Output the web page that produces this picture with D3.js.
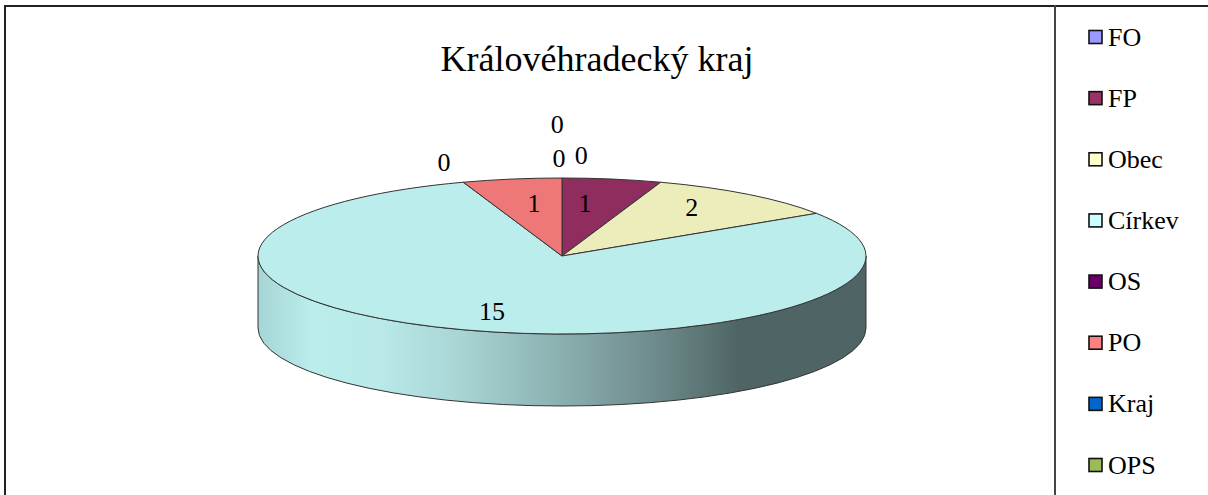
<!DOCTYPE html>
<html>
<head>
<meta charset="utf-8">
<script src="https://cdn.jsdelivr.net/npm/d3@7"></script>
<style>
  html, body { margin: 0; padding: 0; background: #fff; overflow: hidden; }
  svg { display: block; }
  text { font-family: "Liberation Serif", serif; fill: #000; }
</style>
</head>
<body>
<svg width="1208" height="495"></svg>
<script>
  var categories = ["FO", "FP", "Obec", "Církev", "OS", "PO", "Kraj", "OPS"];
  var values = [0, 1, 2, 15, 0, 1, 0, 0];
  var topColors = ["#9999ff", "#8e2d5e", "#ededbb", "#bbeded", "#660066", "#ee7878", "#0066cc", "#9bbb59"];
  var legendColors = ["#9999ff", "#993366", "#ffffcc", "#ccffff", "#660066", "#ff8080", "#0066cc", "#9bbb59"];
  var title = "Královéhradecký kraj";

  var svg = d3.select("svg"),
      cx = 562, cy = 256, rx = 304, ry = 78, depth = 72;

  // unit circle -> flattened pie
  var px = d3.scaleLinear().domain([-1, 1]).range([cx - rx, cx + rx]);
  var py = d3.scaleLinear().domain([-1, 1]).range([cy - ry, cy + ry]);

  var slices = d3.pie().sort(null).value(function(d) { return d; })(values);

  // label spots as [dx, dy] from the centre, fractions of the radii
  var labelSpots = [[-0.016, -1.68], [0.076, -0.67], [0.427, -0.62], [-0.23, 0.72],
                    [0.063, -1.28], [-0.092, -0.67], [-0.388, -1.19], [-0.01, -1.24]];

  var defs = svg.append("defs");
  var grad = defs.append("linearGradient")
      .attr("id", "side")
      .attr("gradientUnits", "userSpaceOnUse")
      .attr("x1", cx - rx).attr("x2", cx + rx).attr("y1", 0).attr("y2", 0);
  [[0, "#a6d5d5"], [0.09, "#bbeded"], [0.2, "#b9e9e9"], [0.33, "#a9d5d5"], [0.5, "#8aafaf"],
   [0.65, "#6f8c8c"], [0.79, "#4f6565"], [1, "#4f6565"]].forEach(function(s) {
    grad.append("stop").attr("offset", s[0]).attr("stop-color", s[1]);
  });

  // frame
  var frame = svg.append("g").attr("stroke", "#222").attr("stroke-width", 2);
  frame.append("line").attr("x1", 5).attr("x2", 1208).attr("y1", 6).attr("y2", 6);
  frame.append("line").attr("x1", 5).attr("x2", 5).attr("y1", 5).attr("y2", 495);
  frame.append("line").attr("x1", 1055).attr("x2", 1055).attr("y1", 5).attr("y2", 495).attr("stroke", "#444");

  svg.append("text")
      .attr("x", 597).attr("y", 71)
      .attr("text-anchor", "middle")
      .attr("font-size", "36px")
      .text(title);

  // side wall
  svg.append("path")
      .attr("d", "M" + px(-1) + "," + py(0)
        + "A" + rx + "," + ry + " 0 0 0 " + px(1) + "," + py(0)
        + "V" + (py(0) + depth)
        + "A" + rx + "," + ry + " 0 0 1 " + px(-1) + "," + (py(0) + depth) + "Z")
      .attr("fill", "url(#side)")
      .attr("stroke", "#333")
      .attr("stroke-width", 1);

  // top face, angle 0 is straight up
  function slicePath(d) {
    var large = d.endAngle - d.startAngle > Math.PI ? 1 : 0;
    return "M" + px(0) + "," + py(0)
      + "L" + px(Math.sin(d.startAngle)) + "," + py(-Math.cos(d.startAngle))
      + "A" + rx + "," + ry + " 0 " + large + " 1 " + px(Math.sin(d.endAngle)) + "," + py(-Math.cos(d.endAngle)) + "Z";
  }

  svg.append("g").selectAll("path")
      .data(slices.filter(function(d) { return d.value > 0; }))
      .enter().append("path")
      .attr("d", slicePath)
      .attr("fill", function(d) { return topColors[d.index]; })
      .attr("stroke", "#333")
      .attr("stroke-width", 1);

  svg.append("g").selectAll("text")
      .data(values)
      .enter().append("text")
      .attr("x", function(d, i) { return px(labelSpots[i][0]); })
      .attr("y", function(d, i) { return py(labelSpots[i][1]) + 8; })
      .attr("text-anchor", "middle")
      .attr("font-size", "26px")
      .text(function(d) { return d; });

  // legend
  var ly = d3.scalePoint().domain(categories).range([37, 465]);
  var legend = svg.append("g").selectAll("g")
      .data(categories)
      .enter().append("g")
      .attr("transform", function(d) { return "translate(1089," + ly(d) + ")"; });

  legend.append("rect")
      .attr("x", 0).attr("y", -6.5).attr("width", 13).attr("height", 13)
      .attr("fill", function(d, i) { return legendColors[i]; })
      .attr("stroke", "#111")
      .attr("stroke-width", 1.6);

  legend.append("text")
      .attr("x", 19).attr("y", 8.5)
      .attr("font-size", "26px")
      .text(function(d) { return d; });
</script>
</body>
</html>
